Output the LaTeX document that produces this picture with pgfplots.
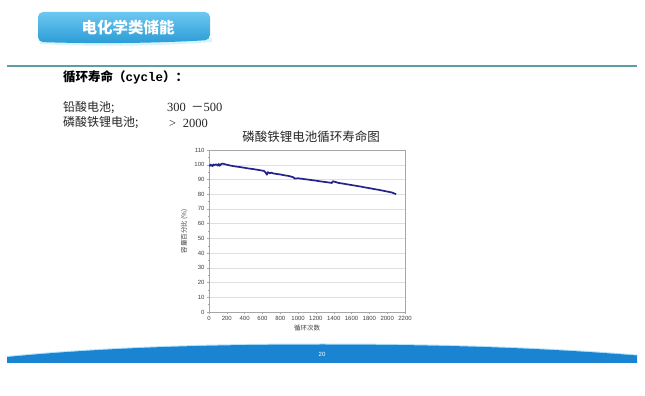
\documentclass[border=0pt]{standalone}
\usepackage{fontspec}
\usepackage{pgfplots}
\pgfplotsset{compat=1.18}
\setmainfont{Liberation Serif}
\setsansfont{Liberation Sans}
\setmonofont{Liberation Mono}
\newfontfamily\cjk{Noto Sans CJK SC}
\definecolor{tabtop}{HTML}{6CC8F0}
\definecolor{tabbot}{HTML}{2B9BD6}
\definecolor{rule}{HTML}{5E9CA8}
\definecolor{band}{HTML}{1A84D2}
\definecolor{navy}{HTML}{23238F}
\begin{document}
\begin{tikzpicture}[x=1pt,y=1pt]
\fill[white] (0,0) rectangle (645,396);
% header tab
\fill[cyan!15] (40,352) .. controls (100,349) and (160,350) .. (212,354) -- (212,358) -- (40,356) -- cycle;
\shade[top color=tabtop,bottom color=tabbot,rounded corners=5pt]
  (38,384) -- (210,384) -- (210,356) .. controls (160,353) and (100,352) .. (38,354) -- cycle;
\node[text=white,font=\cjk\bfseries\fontsize{15.5}{16}\selectfont] at (128,368) {电化学类储能};
% rule
\draw[rule,line width=1.6pt] (7,330) -- (637,330);
% body text
\node[anchor=west,font=\cjk\bfseries\fontsize{12.5}{14}\selectfont,inner sep=0pt] at (63,319)
  {循环寿命（{\ttfamily\bfseries cycle}）：};
\node[anchor=west,font=\cjk\fontsize{12}{13}\selectfont,inner sep=0pt,text=black!85] at (63,288) {铅酸电池;};
\node[anchor=west,font=\rmfamily\fontsize{12.5}{13}\selectfont,inner sep=0pt,text=black!85] at (167,288.5) {300 \,{\cjk －}500};
\node[anchor=west,font=\cjk\fontsize{12}{13}\selectfont,inner sep=0pt,text=black!85] at (63,273) {磷酸铁锂电池;};
\node[anchor=west,font=\rmfamily\fontsize{12.5}{13}\selectfont,inner sep=0pt,text=black!85] at (169,272.5) {> \;2000};
% chart title
\node[font=\cjk\fontsize{12.5}{14}\selectfont,text=black!85] at (311,259) {磷酸铁锂电池循环寿命图};
% bottom band
\fill[cyan!30] (7,40) .. controls (100,49) and (200,52.5) .. (322,52.5) .. controls (450,52.5) and (550,48.5) .. (637,41.5) -- (637,39) -- (7,38) -- cycle;
\fill[band] (7,33) -- (7,39) .. controls (100,48) and (200,51.5) .. (322,51.5) .. controls (450,51.5) and (550,47.5) .. (637,40.5) -- (637,33) -- cycle;
\node[text=white,font=\sffamily\fontsize{6}{7}\selectfont] at (322,42) {20};
% chart
\begin{axis}[
  at={(209pt,84pt)}, anchor=south west,
  scale only axis, width=196pt, height=162pt,
  xmin=0, xmax=2200, ymin=0, ymax=110,
  xtick={0,200,...,2200}, ytick={0,10,...,110},
  minor y tick num=1,
  axis line style={gray!70},
  tick style={gray!70, line width=0.4pt},
  major tick length=2pt, minor tick length=1.2pt,
  tick align=outside,
  xtick pos=bottom, ytick pos=left,
  ymajorgrids, grid style={gray!25, line width=0.4pt},
  tick label style={font=\sffamily\fontsize{6}{6}\selectfont, text=black!75},
  /pgf/number format/assume math mode=true,
  /pgf/number format/1000 sep={},
  xticklabel style={yshift=1pt},
  yticklabel style={xshift=1pt},
  xlabel={\cjk 循环次数},
  ylabel={\cjk 容量百分比 (\%)},
  xlabel style={font=\fontsize{6.5}{7}\selectfont, text=black!75, yshift=3pt},
  ylabel style={font=\fontsize{6.5}{7}\selectfont, text=black!75, yshift=0pt},
]
\addplot[navy, line width=1.7pt, line join=round] coordinates {
(0,99.8) (10,99.2) (20,100.1) (30,99.6) (40,99.0) (50,100.2) (60,99.7) (80,100.3)
(100,99.4) (110,100.5) (120,99.3) (140,100.6) (160,100.7) (180,100.3) (200,100.0)
(250,99.3) (300,98.8) (350,98.4) (400,97.9) (450,97.4) (500,97.0) (550,96.5)
(600,96.0) (620,95.7) (640,94.3) (650,93.2) (660,95.0) (680,94.2) (700,94.6)
(720,94.1) (750,93.8) (800,93.4) (850,92.8) (900,92.3) (950,91.4) (960,90.6)
(1000,90.8) (1050,90.4) (1100,90.0) (1150,89.6) (1200,89.2) (1250,88.7) (1300,88.3)
(1350,87.9) (1380,87.6) (1390,88.8) (1400,88.6) (1420,88.3) (1450,87.7) (1500,87.2)
(1550,86.7) (1600,86.2) (1650,85.7) (1700,85.2) (1750,84.6) (1800,84.1) (1850,83.5)
(1900,83.0) (1950,82.4) (2000,81.8) (2050,81.2) (2100,80.0)
};
\end{axis}
\end{tikzpicture}
\end{document}
